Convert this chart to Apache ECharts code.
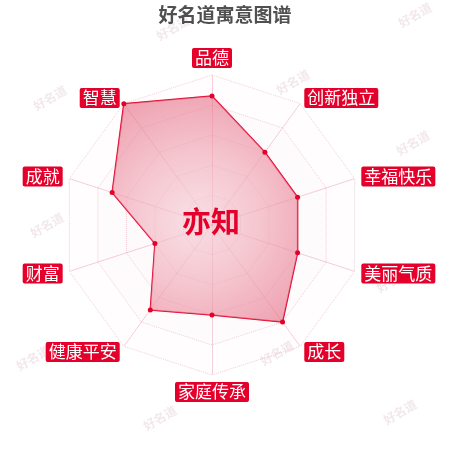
<!DOCTYPE html>
<html>
<head>
<meta charset="utf-8">
<title>好名道寓意图谱</title>
<script src="https://cdn.jsdelivr.net/npm/echarts@6/dist/echarts.min.js"></script>
<style>
  html, body { margin: 0; padding: 0; background: #fff; }
  #chart { width: 450px; height: 450px; }
</style>
</head>
<body>
<div id="chart"></div>
<script>
// 指标（按逆时针顺序，从顶部开始）
const indicatorNames = ['品德', '智慧', '成就', '财富', '健康平安', '家庭传承', '成长', '美丽气质', '幸福快乐', '创新独立'];
const scoreValues = [86, 100, 70, 40, 70, 60, 80, 60, 60, 60];
const maxScore = 100;
const personName = '亦知';
const chartTitle = '好名道寓意图谱';

// 水印位置
const watermarkSpots = [
  [173, 28], [415, 15], [50, 98], [293, 82], [413, 143],
  [47, 225], [393, 280], [33, 358], [277, 353], [160, 418], [400, 412]
];

const RED = '#e4002b';

const chart = echarts.init(document.getElementById('chart'));

const watermarks = watermarkSpots.map(p => ({
  type: 'text',
  x: p[0],
  y: p[1],
  rotation: Math.PI / 6,
  z: 0,
  silent: true,
  style: {
    text: '好名道',
    fill: 'rgba(205, 165, 175, 0.25)',
    font: 'bold 12px "Noto Sans CJK SC"',
    align: 'center',
    verticalAlign: 'middle'
  }
}));

const option = {
  backgroundColor: '#fff',
  title: {
    text: chartTitle,
    left: 'center',
    top: 0,
    textStyle: {
      color: '#505050',
      fontSize: 19,
      fontWeight: 'bold',
      fontFamily: 'Noto Sans CJK SC'
    }
  },
  graphic: watermarks.concat([{
    type: 'text',
    x: 211,
    y: 222,
    z: 100,
    silent: true,
    style: {
      text: personName,
      fill: RED,
      font: 'bold 29px "Noto Sans CJK SC"',
      align: 'center',
      verticalAlign: 'middle'
    }
  }]),
  radar: {
    center: [212, 225],
    radius: 150,
    startAngle: 90,
    splitNumber: 5,
    shape: 'polygon',
    indicator: indicatorNames.map(n => ({ name: n, max: maxScore })),
    axisName: {
      color: '#fff',
      backgroundColor: RED,
      fontSize: 17,
      lineHeight: 18,
      padding: [1, 3],
      borderRadius: 2,
      fontFamily: 'Noto Sans CJK SC'
    },
    nameGap: 7,
    axisLine: {
      lineStyle: { color: 'rgba(225, 120, 145, 0.4)', width: 1, type: 'dotted' }
    },
    splitLine: {
      lineStyle: { color: 'rgba(220, 150, 165, 0.45)', type: 'dotted', width: 1 }
    },
    splitArea: {
      show: true,
      areaStyle: {
        color: [
          'rgba(235, 140, 160, 0.10)',
          'rgba(235, 140, 160, 0.07)',
          'rgba(235, 140, 160, 0.05)',
          'rgba(235, 140, 160, 0.03)',
          'rgba(235, 140, 160, 0.02)'
        ]
      }
    }
  },
  series: [{
    type: 'radar',
    symbol: 'circle',
    symbolSize: 5,
    itemStyle: { color: RED },
    lineStyle: { color: RED, width: 1.5 },
    areaStyle: {
      color: new echarts.graphic.RadialGradient(0.45, 0.55, 0.7, [
        { offset: 0, color: 'rgba(246, 212, 220, 0.92)' },
        { offset: 0.5, color: 'rgba(240, 170, 184, 0.92)' },
        { offset: 1, color: 'rgba(230, 115, 138, 0.92)' }
      ])
    },
    data: [{ value: scoreValues, name: personName }]
  }]
};

chart.setOption(option);
</script>
</body>
</html>
